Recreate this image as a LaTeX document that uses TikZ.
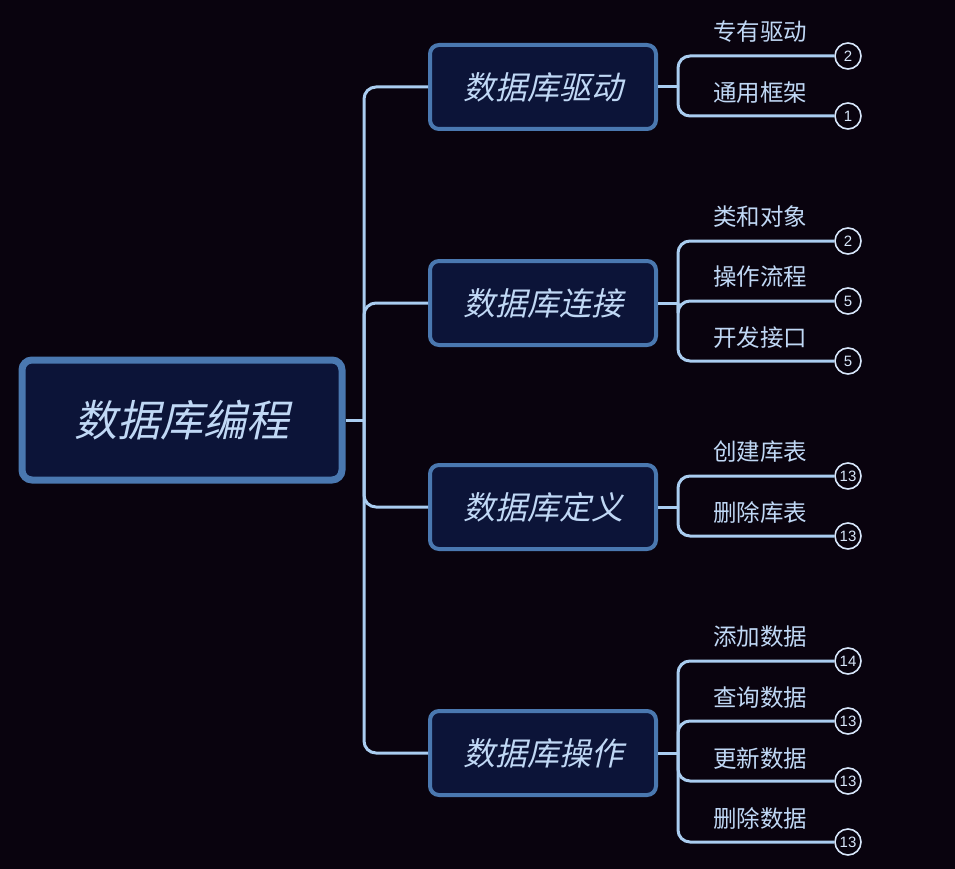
\documentclass[tikz,border=0pt]{standalone}
\usepackage{fontspec}
\newfontfamily\cjk{Noto Sans CJK SC}
\newfontfamily\cjkit[FakeSlant=0.22]{Noto Sans CJK SC}
\newfontfamily\numfont{Liberation Sans}
\definecolor{bg}{RGB}{9,3,14}
\definecolor{nodefill}{RGB}{12,20,56}
\definecolor{nodeborder}{RGB}{74,120,176}
\definecolor{txt}{RGB}{192,216,245}
\definecolor{wire}{RGB}{170,205,240}
\definecolor{ringc}{RGB}{215,230,250}
\tikzset{
  rootbox/.style={draw=nodeborder, line width=7pt, fill=nodefill, rounded corners=10pt,
    minimum width=320pt, minimum height=120pt, text=txt, font=\cjkit\fontsize{43}{47}\selectfont, inner sep=0pt},
  branchbox/.style={draw=nodeborder, line width=4pt, fill=nodefill, rounded corners=9pt,
    minimum width=226pt, minimum height=84pt, text=txt, font=\cjkit\fontsize{32}{36}\selectfont, inner sep=0pt},
  leaftext/.style={text=txt, font=\cjk\fontsize{23.5}{27}\selectfont, anchor=west, inner sep=0pt},
  badge/.style={circle, draw=ringc, line width=1.6pt, fill=bg, minimum size=26pt, inner sep=0pt,
    text=ringc, font=\numfont\fontsize{15}{17}\selectfont},
  wirestyle/.style={draw=wire, line width=3pt, rounded corners=12pt},
}
\begin{document}
\begin{tikzpicture}[x=1pt,y=-1pt]
\fill[bg] (0,0) rectangle (955,869);
\useasboundingbox (0,0) rectangle (955,869);

% root
\node[rootbox] (root) at (182,420) {数据库编程};
\coordinate (trunk) at (364,420);

% branches
\node[branchbox] (b1) at (543,87) {数据库驱动};
\node[branchbox] (b2) at (543,303) {数据库连接};
\node[branchbox] (b3) at (543,507) {数据库定义};
\node[branchbox] (b4) at (543,753) {数据库操作};

\coordinate (h1) at (678,87);
\coordinate (h2) at (678,303);
\coordinate (h3) at (678,507);
\coordinate (h4) at (678,753);

% leaf badges
\node[badge] (c11) at (848,56) {2};
\node[badge] (c12) at (848,116) {1};
\node[badge] (c21) at (848,241) {2};
\node[badge] (c22) at (848,301) {5};
\node[badge] (c23) at (848,361) {5};
\node[badge] (c31) at (848,476) {13};
\node[badge] (c32) at (848,536) {13};
\node[badge] (c41) at (848,661) {14};
\node[badge] (c42) at (848,721) {13};
\node[badge] (c43) at (848,781) {13};
\node[badge] (c44) at (848,842) {13};

% leaf texts
\node[leaftext] (t11) at (713,32) {专有驱动};
\node[leaftext] (t12) at (713,93) {通用框架};
\node[leaftext] (t21) at (713,217) {类和对象};
\node[leaftext] (t22) at (713,277) {操作流程};
\node[leaftext] (t23) at (713,338) {开发接口};
\node[leaftext] (t31) at (713,452) {创建库表};
\node[leaftext] (t32) at (713,513) {删除库表};
\node[leaftext] (t41) at (713,637) {添加数据};
\node[leaftext] (t42) at (713,698) {查询数据};
\node[leaftext] (t43) at (713,759) {更新数据};
\node[leaftext] (t44) at (713,819) {删除数据};

% connectors
\draw[wirestyle] (root.east) -- (trunk);
\foreach \b in {b1,b2,b3,b4}{
  \draw[wirestyle] (trunk) |- (\b.west);
}
\draw[wirestyle] (b1.east) -- (h1);
\draw[wirestyle] (b2.east) -- (h2);
\draw[wirestyle] (b3.east) -- (h3);
\draw[wirestyle] (b4.east) -- (h4);
\foreach \c in {c11,c12}{\draw[wirestyle] (h1) |- (\c.west);}
\foreach \c in {c21,c22,c23}{\draw[wirestyle] (h2) |- (\c.west);}
\foreach \c in {c31,c32}{\draw[wirestyle] (h3) |- (\c.west);}
\foreach \c in {c41,c42,c43,c44}{\draw[wirestyle] (h4) |- (\c.west);}
\end{tikzpicture}
\end{document}
